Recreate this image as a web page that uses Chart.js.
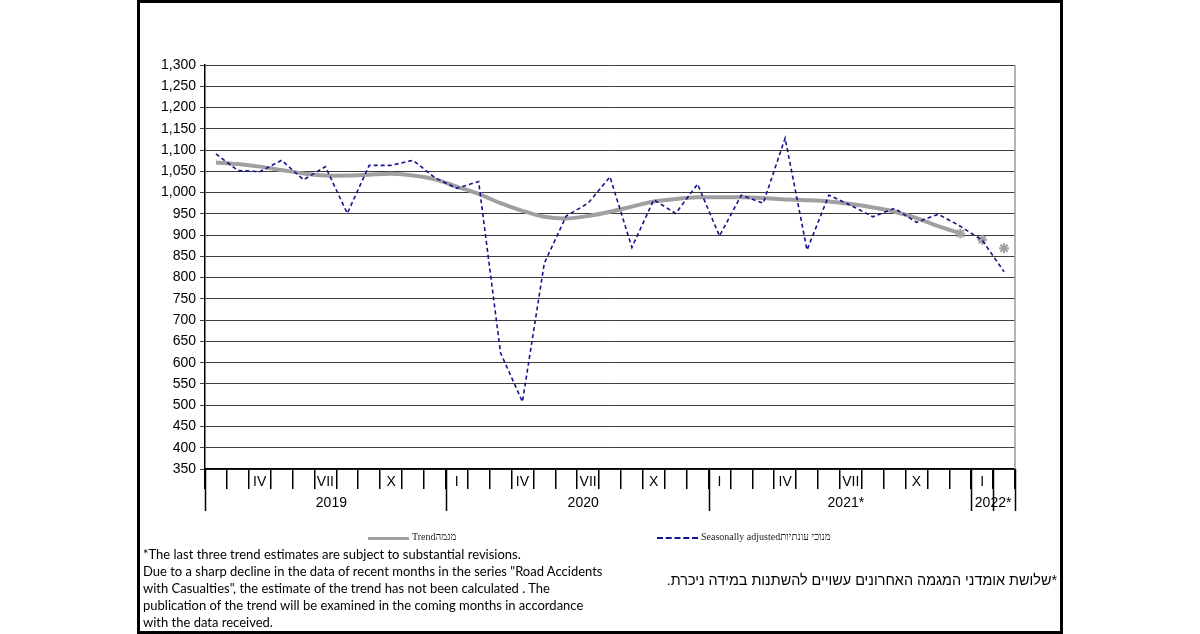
<!DOCTYPE html>
<html>
<head>
<meta charset="utf-8">
<script src="https://cdn.jsdelivr.net/npm/chart.js@4"></script>
<style>
  html, body { margin: 0; padding: 0; background: #fff; }
  #wrap { position: relative; width: 1200px; height: 634px; overflow: hidden; }
  #frame { position: absolute; left: 137px; top: 0; width: 926px; height: 634px; border: 3px solid #000; box-sizing: border-box; }
  #c { position: absolute; left: 0; top: 0; }
  .leg { position: absolute; font-family: "Liberation Serif", serif; font-size: 10px; color: #222; white-space: nowrap; }
  .note { position: absolute; left: 143px; top: 546px; font-family: Lato, "Open Sans", sans-serif; font-size: 13px; line-height: 17px; color: #000; white-space: nowrap; }
  .heb { position: absolute; right: 143px; top: 572px; font-family: "Liberation Sans", Arial, sans-serif; font-size: 14.4px; color: #000; white-space: nowrap; }
</style>
</head>
<body>
<div id="wrap">
  <div id="frame"></div>
  <canvas id="c" width="1200" height="634"></canvas>
  <div style="position:absolute;left:368px;top:537px;width:41px;height:3px;background:#a0a0a0"></div>
  <div class="leg" style="left:412px;top:531px">Trendמגמה</div>
  <div style="position:absolute;left:657px;top:537px;width:41px;border-top:2px dashed #14148c"></div>
  <div class="leg" style="left:701px;top:531px">Seasonally adjustedמנוכי עונתיות</div>
  <div class="note">*The last three trend estimates are subject to substantial revisions.<br>Due to a sharp decline in the data of recent months in the series "Road Accidents<br>with Casualties", the estimate of the trend has not been calculated . The<br>publication of the trend will be examined in the coming months in accordance<br>with the data received.</div>
  <div class="heb" dir="rtl">*שלושת אומדני המגמה האחרונים עשויים להשתנות במידה ניכרת.</div>
</div>
<script>
// meses: febrero 2019 - febrero 2022
const meses = [
  "2019-02","2019-03","2019-04","2019-05","2019-06","2019-07","2019-08","2019-09","2019-10","2019-11","2019-12",
  "2020-01","2020-02","2020-03","2020-04","2020-05","2020-06","2020-07","2020-08","2020-09","2020-10","2020-11","2020-12",
  "2021-01","2021-02","2021-03","2021-04","2021-05","2021-06","2021-07","2021-08","2021-09","2021-10","2021-11","2021-12",
  "2022-01","2022-02"
];
const seasonal = [
  1091, 1052, 1049, 1076, 1030, 1061, 951, 1064, 1064, 1076, 1035,
  1010, 1026, 623, 508, 834, 945, 975, 1037, 871, 983, 951, 1020,
  898, 994, 975, 1128, 865, 994, 970, 943, 963, 930, 949, 921,
  888, 814
];
const trend = [
  1071, 1067, 1061, 1053, 1045, 1040, 1040, 1042, 1044, 1040, 1031,
  1014, 997, 975, 957, 943, 939, 945, 955, 967, 979, 985, 989,
  989, 989, 987, 984, 982, 979, 973, 965, 955, 940, 921, 904,
  null, null
];
// ultimas tres estimaciones (asteriscos)
const trendLast = [
  null, null, null, null, null, null, null, null, null, null, null,
  null, null, null, null, null, null, null, null, null, null, null, null,
  null, null, null, null, null, null, null, null, null, null, null, 904,
  889, 869
];
const romanos = { "01": "I", "04": "IV", "07": "VII", "10": "X" };
const yearNames = { "2019": "2019", "2020": "2020", "2021": "2021*", "2022": "2022*" };
const yMin = 350, yMax = 1300, yStep = 50;

// ejes de años + marcas largas
const yearAxis = {
  id: 'yearAxis',
  afterDraw(chart) {
    const ctx = chart.ctx;
    const x = chart.scales.x;
    const area = chart.chartArea;
    const w = (x.right - x.left) / meses.length;
    const breaks = [0];
    meses.forEach((m, i) => { if (i > 0 && m.slice(0, 4) !== meses[i - 1].slice(0, 4)) breaks.push(i); });
    breaks.push(meses.length - 1, meses.length);
    ctx.save();
    ctx.strokeStyle = '#000';
    ctx.lineWidth = 1.5;
    breaks.forEach(i => {
      const px = Math.round(x.left + i * w) + 0.5;
      ctx.beginPath();
      ctx.moveTo(px, area.bottom);
      ctx.lineTo(px, area.bottom + 42);
      ctx.stroke();
    });
    // borde derecho del area
    ctx.strokeStyle = '#9a9a9a';
    ctx.lineWidth = 1.5;
    ctx.beginPath();
    ctx.moveTo(area.right, area.top);
    ctx.lineTo(area.right, area.bottom);
    ctx.stroke();
    // etiquetas de años
    ctx.fillStyle = '#000';
    ctx.font = '14px "Liberation Sans", Arial, sans-serif';
    ctx.textAlign = 'center';
    ctx.textBaseline = 'middle';
    const starts = breaks.filter((b, k) => k < breaks.length - 1 && b !== meses.length - 1);
    starts.forEach((s, k) => {
      const e = k + 1 < starts.length ? starts[k + 1] : meses.length;
      let cx = x.left + (s + e) / 2 * w;
      if (e - s > 2) cx += 6;
      ctx.fillText(yearNames[meses[s].slice(0, 4)], cx, area.bottom + 34);
    });
    ctx.restore();
  }
};

new Chart(document.getElementById('c'), {
  type: 'line',
  data: {
    labels: meses,
    datasets: [
      {
        label: 'Seasonally adjusted',
        data: seasonal,
        borderColor: '#14148c',
        borderWidth: 1.6,
        borderDash: [4, 3],
        pointRadius: 0,
        tension: 0,
        fill: false
      },
      {
        label: 'Trend',
        data: trend,
        borderColor: '#a0a0a0',
        borderWidth: 4,
        pointRadius: 0,
        tension: 0.3,
        fill: false
      },
      {
        label: 'Trend last',
        data: trendLast,
        showLine: false,
        pointStyle: 'star',
        pointRadius: 5,
        borderColor: '#a0a0a0',
        backgroundColor: '#a0a0a0',
        pointBorderWidth: 2
      }
    ]
  },
  options: {
    responsive: false,
    animation: false,
    devicePixelRatio: 1,
    layout: { padding: { left: 0, top: 65, right: 185, bottom: 0 } },
    plugins: { legend: { display: false }, tooltip: { enabled: false } },
    scales: {
      x: {
        offset: true,
        afterFit: s => { s.height = 165; },
        grid: { offset: true, drawOnChartArea: false, tickLength: 20, color: '#000', lineWidth: 1.5 },
        border: { color: '#000', width: 1.5 },
        ticks: {
          autoSkip: false,
          maxRotation: 0,
          padding: -15,
          color: '#000',
          font: { family: '"Liberation Sans", Arial, sans-serif', size: 14 },
          callback: (v, i) => romanos[meses[i].slice(5)] || ''
        }
      },
      y: {
        min: yMin,
        max: yMax,
        afterFit: s => { s.width = 205; },
        ticks: {
          stepSize: yStep,
          padding: 4,
          color: '#000',
          font: { family: '"Liberation Sans", Arial, sans-serif', size: 14 },
          callback: v => v.toLocaleString('en-US')
        },
        grid: { color: '#3c3c3c', lineWidth: 1, tickLength: 5 },
        border: { color: '#000', width: 1.5 }
      }
    }
  },
  plugins: [yearAxis]
});
</script>
</body>
</html>
